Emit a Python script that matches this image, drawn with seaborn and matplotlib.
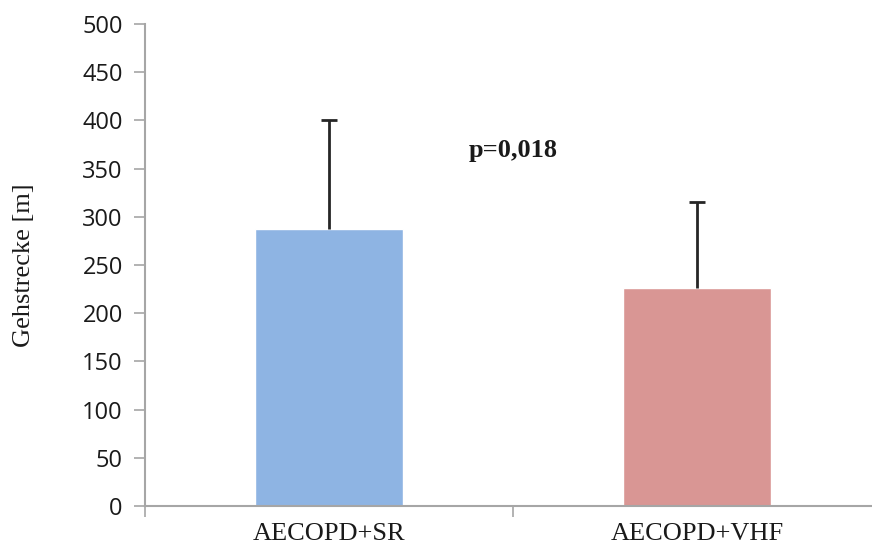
import numpy as np
import pandas as pd
import matplotlib
matplotlib.use("Agg")
import matplotlib.pyplot as plt
import seaborn as sns

# Daten
gruppen = ["AECOPD+SR", "AECOPD+VHF"]
gehstrecke = [287, 226]
sd = [113, 89]
farben = ["#8EB4E3", "#D99694"]

df = pd.DataFrame({"Gruppe": gruppen, "Gehstrecke": gehstrecke})

sns.set_style("white")
plt.rcParams["font.family"] = ["Open Sans", "DejaVu Sans"]

fig = plt.figure(figsize=(8.72, 5.49), dpi=100)
ax = fig.add_axes([145 / 872, 43 / 549, 736 / 872, 482 / 549])

sns.barplot(data=df, x="Gruppe", y="Gehstrecke", hue="Gruppe", palette=farben,
            width=0.4, errorbar=None, legend=False, saturation=1, ax=ax)

# nur obere Fehlerbalken
_, caps, _ = ax.errorbar(np.arange(len(gruppen)), gehstrecke,
                         yerr=[np.zeros(len(sd)), sd], fmt="none",
                         ecolor="#262626", elinewidth=2, capsize=6, capthick=2)
caps[0].set_visible(False)

ax.text(0.5, 369, "p=0,018", ha="center", va="center", fontsize=19,
        fontweight="bold", family="Liberation Serif", color="#1a1a1a")

ax.set_ylim(0, 500)
ax.set_xlim(-0.5, 1.5)
ax.set_yticks(np.arange(0, 501, 50))
ax.tick_params(axis="y", labelsize=17, length=8, width=1.2, color="#A6A6A6",
               left=True, direction="out", pad=8, labelcolor="#1a1a1a")
ax.tick_params(axis="x", which="major", length=0, pad=12)
ax.set_xticks([-0.5, 0.5, 1.5], minor=True)
ax.tick_params(axis="x", which="minor", length=8, width=1.2, color="#A6A6A6",
               bottom=True, direction="out")
for lbl in ax.get_xticklabels():
    lbl.set_family("Liberation Serif")
    lbl.set_fontsize(19)
    lbl.set_color("#1a1a1a")

ax.set_xlabel("")
ax.set_ylabel("Gehstrecke [m]", family="Liberation Serif", fontsize=19,
              color="#1a1a1a", labelpad=34)

for s in ["top", "right"]:
    ax.spines[s].set_visible(False)
for s in ["left", "bottom"]:
    ax.spines[s].set_color("#A6A6A6")
    ax.spines[s].set_linewidth(1.5)

fig.savefig("out.png", dpi=100)
